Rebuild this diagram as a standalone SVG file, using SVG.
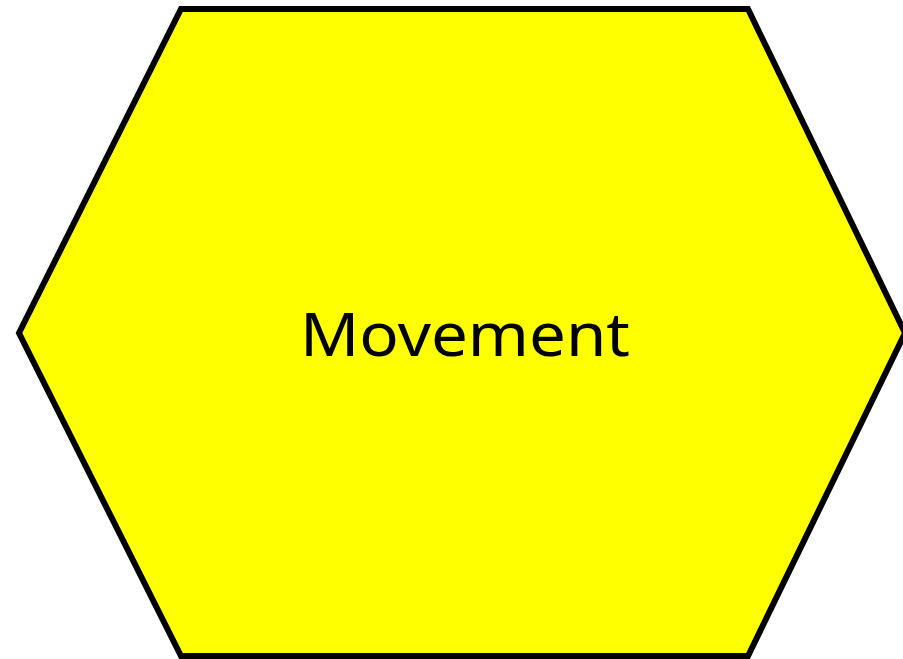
<svg xmlns="http://www.w3.org/2000/svg" width="903" height="659" viewBox="0 0 903 659">
<style>
.hex{fill:#ffff00;stroke:#000;stroke-width:6;stroke-linejoin:miter}
.lbl{font-family:"Noto Sans","Open Sans","Liberation Sans",sans-serif;font-size:60px;fill:#000;text-anchor:middle}
</style>
<rect width="903" height="659" fill="#fff"/>
<g id="movement">
<polygon class="hex" points="181,9 748,9 905,333 748,656 181,656 19,333"/>
<text class="lbl" x="465" y="356" textLength="330" lengthAdjust="spacingAndGlyphs">Movement</text>
</g>
<g id="connectors"></g>
</svg>
